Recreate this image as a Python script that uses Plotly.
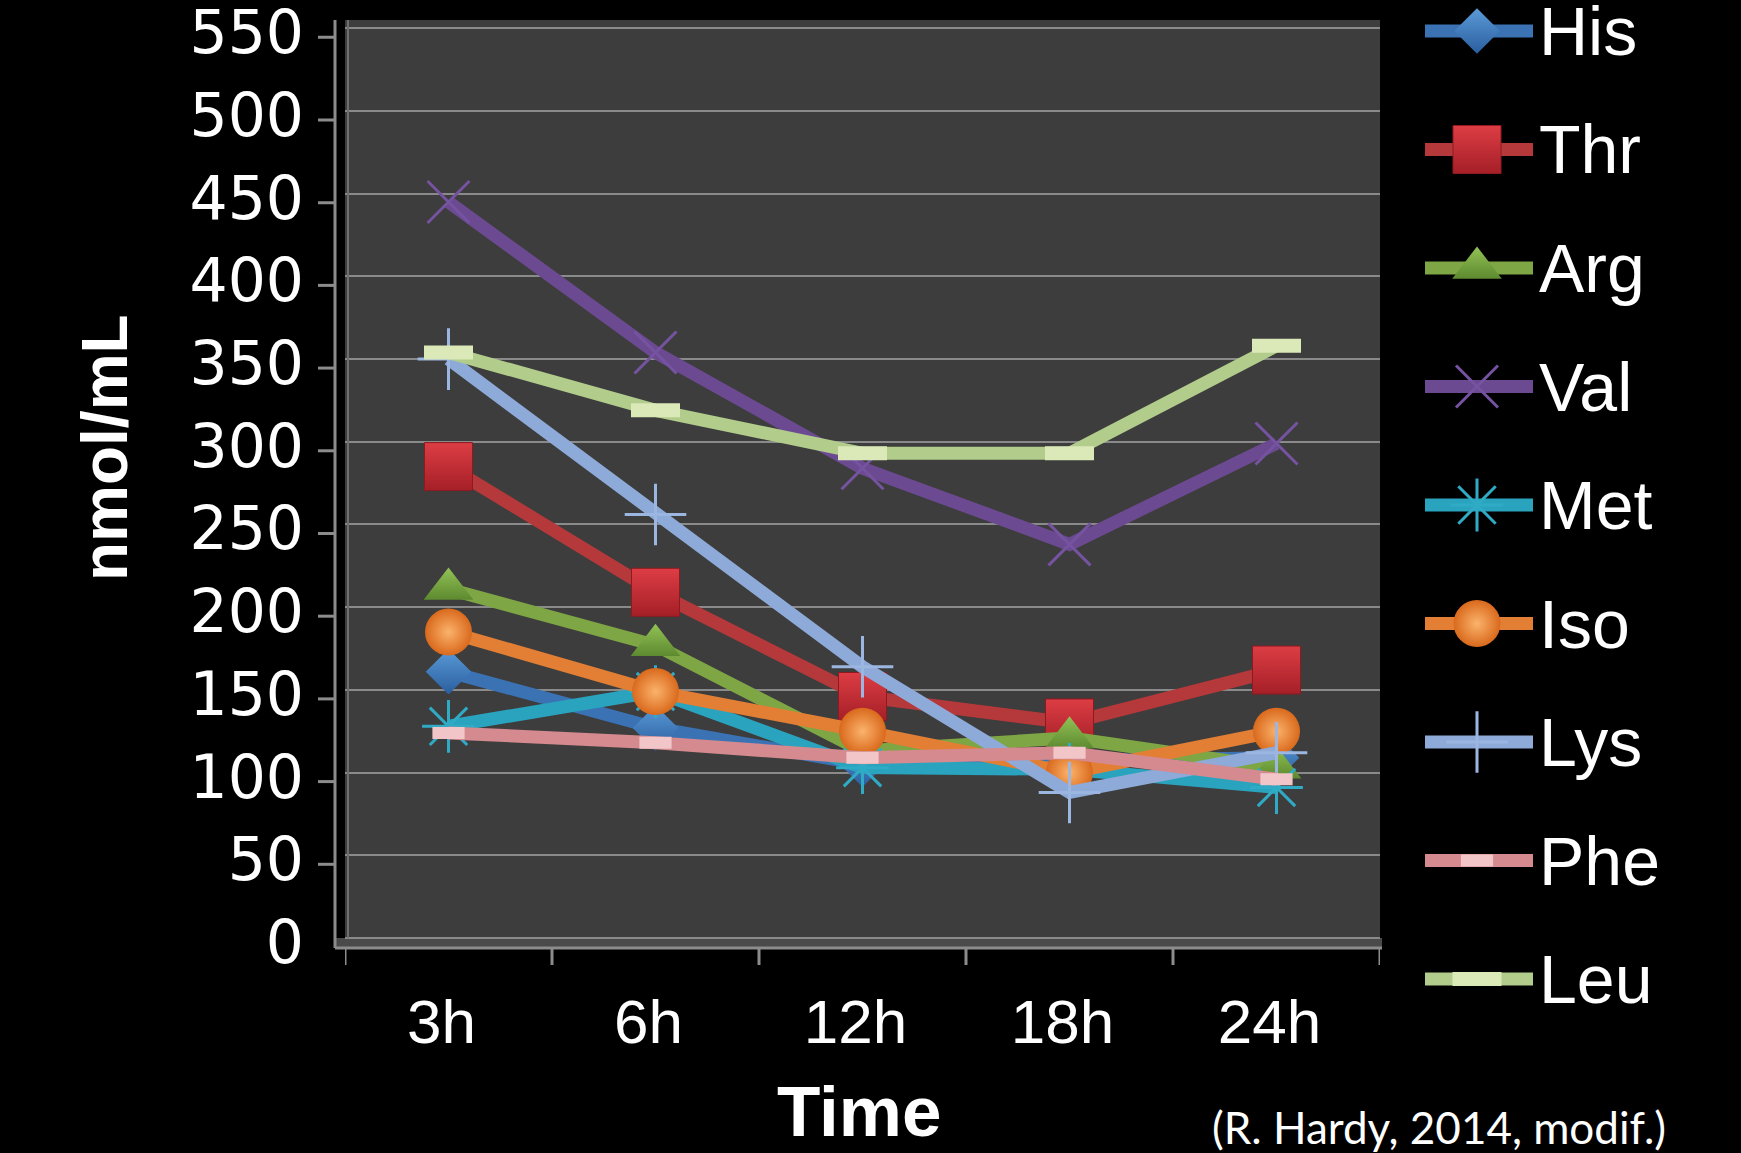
import plotly.graph_objects as go

# ---- data -------------------------------------------------------------
times = ["3h", "6h", "12h", "18h", "24h"]
his = [161, 127, 105, 107, 109]
thr = [285, 209, 146, 130, 162]
arg = [211, 177, 113, 121, 103]
val = [445, 354, 284, 238, 299]
met = [128, 149, 103, 102, 91]
iso = [185, 149, 125, 100, 125]
lys = [350, 256, 164, 88, 112]
phe = [124, 118, 109, 112, 96]
leu = [354, 319, 293, 293, 358]
y_ticks = list(range(0, 551, 50))

# ---- page geometry (pixels) ------------------------------------------
W, H = 1741, 1153
PL, PR, PT, PB = 345, 1380, 20, 938      # plot wall
WALL_TOP = 555                           # value at the top edge of the wall
Y_MAX = 560                              # axis range top (leaves room for the 550 label)
PX_PER_UNIT = (PB - PT) / WALL_TOP
Y_DOMAIN_TOP = PB - Y_MAX * PX_PER_UNIT
FRONT_X, FRONT_Y = 335, 948             # front axis lines
FONT = "Liberation Sans, Arial, sans-serif"


def px(x):
    return x / W


def py(y):
    return 1 - y / H


# name, values, line colour, marker settings
series = [
    ("His", his, "#3a72b4", dict(symbol="diamond", size=35, color="#5b9ad8",
                                 gradient=dict(type="vertical", color="#2a5e9e"),
                                 line=dict(width=0))),
    ("Thr", thr, "#b5383a", dict(symbol="square", size=48, color="#dd3d44",
                                 gradient=dict(type="vertical", color="#a51f27"),
                                 line=dict(width=1, color="#8e1a20"))),
    ("Arg", arg, "#7ea644", dict(symbol="triangle-up", size=43, color="#92c256",
                                 gradient=dict(type="vertical", color="#5d8a2f"),
                                 line=dict(width=0))),
    ("Val", val, "#6c4a92", dict(symbol="x-thin-open", size=42, color="#7553a0",
                                 line=dict(width=3, color="#7553a0"))),
    ("Met", met, "#2aa3be", dict(symbol="asterisk-open", size=44, color="#2fabc6",
                                 line=dict(width=3, color="#2fabc6"))),
    ("Iso", iso, "#e27f35", dict(symbol="circle", size=47, color="#d9691c",
                                 gradient=dict(type="radial", color="#fbb36c"),
                                 line=dict(width=0))),
    ("Lys", lys, "#8eaad8", dict(symbol="cross-thin-open", size=44, color="#9bb6e0",
                                 line=dict(width=3, color="#9bb6e0"))),
    ("Phe", phe, "#d48a8f", dict(symbol="line-ew-open", size=23, color="#f2c6c9",
                                 line=dict(width=12, color="#f2c6c9"))),
    ("Leu", leu, "#b1cc8b", dict(symbol="line-ew-open", size=35, color="#dbe9b8",
                                 line=dict(width=14, color="#dbe9b8"))),
]

fig = go.Figure()

for name, vals, lc, mk in series:
    fig.add_trace(go.Scatter(
        x=times, y=vals, name=name, mode="lines+markers",
        line=dict(color=lc, width=13),
        marker=mk, showlegend=False,
        xaxis="x", yaxis="y",
    ))

# ---- hand-drawn legend keys on a pixel-scaled helper axis ---------------
LEG_TOP, LEG_STEP = 31, 118.5
for i, (name, vals, lc, mk) in enumerate(series):
    row = LEG_TOP + i * LEG_STEP
    fig.add_trace(go.Scatter(
        x=[5, 113], y=[row, row], mode="lines",
        line=dict(color=lc, width=13), showlegend=False,
        hoverinfo="skip", xaxis="x2", yaxis="y2",
    ))
    fig.add_trace(go.Scatter(
        x=[57], y=[row], mode="markers", marker=mk,
        showlegend=False, hoverinfo="skip", xaxis="x2", yaxis="y2",
    ))
    fig.add_annotation(
        text=name, x=px(1537), y=py(row), xref="paper", yref="paper",
        xanchor="left", yanchor="middle", showarrow=False,
        font=dict(family=FONT, size=68, color="white"),
    )

# ---- wall and front axes -------------------------------------------------
shapes = []
grey = "#8c8c8c"
# back wall of the plot
shapes.append(dict(type="rect", xref="x domain", yref="y",
                   x0=0, x1=1, y0=0, y1=WALL_TOP,
                   fillcolor="#3d3d3d", line=dict(width=0), layer="below"))
# floor strip between the wall and the front axis
shapes.append(dict(type="rect", xref="paper", yref="paper",
                   x0=px(FRONT_X), x1=px(1382), y0=py(FRONT_Y), y1=py(PB),
                   fillcolor="#4a4a4a", line=dict(width=0), layer="below"))
# wall's left edge
shapes.append(dict(type="line", xref="paper", yref="paper",
                   x0=px(PL + 3), x1=px(PL + 3), y0=py(PB), y1=py(PT),
                   line=dict(color="#6f6f6f", width=2)))
# front vertical axis
shapes.append(dict(type="line", xref="paper", yref="paper",
                   x0=px(FRONT_X), x1=px(FRONT_X), y0=py(FRONT_Y), y1=py(PT),
                   line=dict(color=grey, width=3)))
# front horizontal axis
shapes.append(dict(type="line", xref="paper", yref="paper",
                   x0=px(FRONT_X), x1=px(1382), y0=py(FRONT_Y), y1=py(FRONT_Y),
                   line=dict(color=grey, width=3)))
# y tick marks on the front axis
for v in y_ticks:
    shapes.append(dict(type="line", xref="paper", yref="y",
                       ysizemode="pixel", yanchor=v, y0=-9, y1=-9,
                       x0=px(FRONT_X - 17), x1=px(FRONT_X),
                       line=dict(color=grey, width=3)))
# x tick marks between categories
for k in range(len(times) + 1):
    shapes.append(dict(type="line", xref="x", yref="paper",
                       x0=k - 0.5, x1=k - 0.5, y0=py(FRONT_Y), y1=py(FRONT_Y + 17),
                       line=dict(color=grey, width=3)))

fig.update_layout(shapes=shapes)

# ---- titles and source note -------------------------------------------
fig.add_annotation(text="<b>nmol/mL</b>", textangle=-90,
                   x=px(105), y=py(448), xref="paper", yref="paper",
                   xanchor="center", yanchor="middle", showarrow=False,
                   font=dict(family=FONT, size=64, color="white"))
fig.add_annotation(text="<b>Time</b>",
                   x=px(859), y=py(1111), xref="paper", yref="paper",
                   xanchor="center", yanchor="middle", showarrow=False,
                   font=dict(family=FONT, size=71, color="white"))
fig.add_annotation(text="(R. Hardy, 2014, modif.)",
                   x=px(1439), y=py(1127), xref="paper", yref="paper",
                   xanchor="center", yanchor="middle", showarrow=False,
                   font=dict(family="Lato, Open Sans, sans-serif", size=44, color="white"))

fig.update_layout(
    width=W, height=H,
    margin=dict(l=0, r=0, t=0, b=0, autoexpand=False),
    paper_bgcolor="black",
    plot_bgcolor="black",
    xaxis=dict(
        type="category", domain=[px(PL), px(PR)], range=[-0.5, 4.5],
        showgrid=False, zeroline=False, showline=False, ticks="",
        tickfont=dict(family=FONT, size=62, color="white"),
        ticklabelstandoff=42, ticklabelshift=-7, fixedrange=True,
        automargin=False,
    ),
    yaxis=dict(
        domain=[1 - PB / H, 1 - Y_DOMAIN_TOP / H], range=[0, Y_MAX],
        tickvals=y_ticks, showgrid=True, gridcolor="#8a8a8a", gridwidth=2,
        zeroline=True, zerolinecolor="#8a8a8a", zerolinewidth=2,
        showline=False, ticks="",
        tickfont=dict(family="DejaVu Sans, sans-serif", size=60, color="white"),
        ticklabelstandoff=40, ticklabelshift=4, ticklabeloverflow="allow",
        fixedrange=True, automargin=False,
    ),
    xaxis2=dict(domain=[px(1420), px(1540)], range=[0, 120], visible=False,
                anchor="y2", fixedrange=True, automargin=False),
    yaxis2=dict(domain=[0, 1], range=[H, 0], visible=False,
                anchor="x2", fixedrange=True, automargin=False),
)

fig.write_html("out.html")
